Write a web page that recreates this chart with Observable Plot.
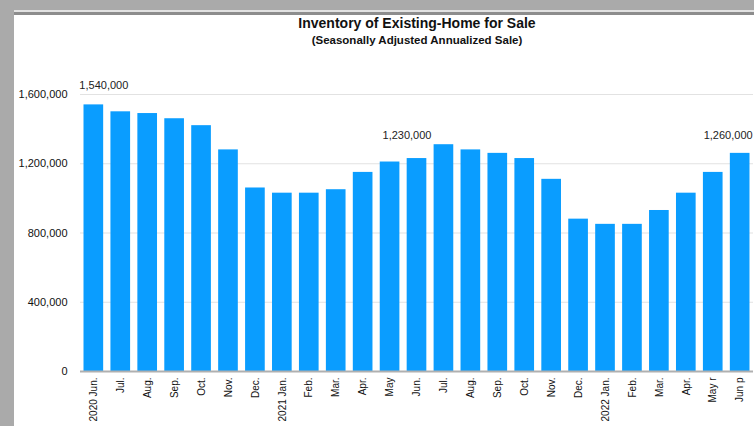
<!DOCTYPE html>
<html>
<head>
<meta charset="utf-8">
<script src="https://cdn.jsdelivr.net/npm/d3@7"></script>
<script src="https://cdn.jsdelivr.net/npm/@observablehq/plot@0.6"></script>
<style>
  html, body { margin: 0; padding: 0; background: #fff; overflow: hidden; }
  #wrap { position: relative; width: 754px; height: 426px; font-family: "Liberation Sans", Arial, sans-serif; }
  #chart { position: absolute; left: 0; top: 0; }
  .title { position: absolute; left: 80px; width: 674px; text-align: center; font-weight: bold; color: #111; line-height: 1; white-space: nowrap; }
  #t1 { top: 15.5px; font-size: 14px; }
  #t2 { top: 34.5px; font-size: 11.5px; }
  .frame { position: absolute; }
</style>
</head>
<body>
<div id="wrap">
  <div id="chart"></div>
  <div class="title" id="t1">Inventory of Existing-Home for Sale</div>
  <div class="title" id="t2">(Seasonally Adjusted Annualized Sale)</div>
  <div class="frame" style="left:0;top:0;width:754px;height:10px;background:#aaaaaa;"></div>
  <div class="frame" style="left:14px;top:10px;width:740px;height:2px;background:#e2e2e2;"></div>
  <div class="frame" style="left:14px;top:12px;width:740px;height:3px;background:#8d8d8d;"></div>
  <div class="frame" style="left:0;top:0;width:14px;height:426px;background:#aaaaaa;"></div>
</div>
<script>
const categories = ["2020-06","2020-07","2020-08","2020-09","2020-10","2020-11","2020-12",
  "2021-01","2021-02","2021-03","2021-04","2021-05","2021-06","2021-07","2021-08","2021-09","2021-10","2021-11","2021-12",
  "2022-01","2022-02","2022-03","2022-04","2022-05","2022-06"];
const tickLabels = ["2020 Jun.","Jul.","Aug.","Sep.","Oct.","Nov.","Dec.",
  "2021 Jan.","Feb.","Mar.","Apr.","May","Jun.","Jul.","Aug.","Sep.","Oct.","Nov.","Dec.",
  "2022 Jan.","Feb.","Mar.","Apr.","May r","Jun p"];
const inventory = [1540000,1500000,1490000,1460000,1420000,1280000,1060000,
  1030000,1030000,1050000,1150000,1210000,1230000,1310000,1280000,1260000,1230000,1110000,880000,
  850000,850000,930000,1030000,1150000,1260000];
const yTicks = [0, 400000, 800000, 1200000, 1600000];
const annotCategories = ["2020-06","2021-06","2022-06"];
const annotValues = [1540000, 1230000, 1260000];
const annotLabels = ["1,540,000","1,230,000","1,260,000"];

const data = categories.map((c, i) => ({cat: c, value: inventory[i]}));
const annots = annotCategories.map((c, i) => ({cat: c, value: annotValues[i], label: annotLabels[i]}));
const annotDx = [10, -10, -12];
const annotDy = [-19, -23, -18];
const font = "Liberation Sans, Arial, sans-serif";

const chart = Plot.plot({
  width: 754,
  height: 426,
  marginLeft: 80,
  marginRight: 1,
  marginTop: 94,
  marginBottom: 55,
  style: {fontFamily: font, background: "transparent", overflow: "visible"},
  x: {domain: categories, paddingInner: 0.27, paddingOuter: 0.13, round: false, label: null},
  y: {domain: [0, 1600000], label: null},
  marks: [
    Plot.gridY(yTicks, {stroke: "#e2e2e2", strokeOpacity: 1, strokeWidth: 1.2}),
    Plot.axisY(yTicks, {tickSize: 0, tickPadding: 13, tickFormat: d3.format(","), fontSize: 11, fill: "#111", label: null}),
    Plot.barY(data, {x: "cat", y: "value", fill: "#0a9dff"}),
    Plot.ruleY([0], {stroke: "#b0b0b0", strokeWidth: 2}),
    Plot.axisX({tickSize: 0, tickPadding: 6, tickRotate: -90, fontSize: 10, fill: "#111", label: null,
      tickFormat: d => tickLabels[categories.indexOf(d)]}),
    ...annots.map((a, i) => Plot.text([a], {x: "cat", y: "value", text: "label", dx: annotDx[i], dy: annotDy[i],
      fontSize: 11, fill: "#222", lineAnchor: "middle"}))
  ]
});
document.getElementById("chart").appendChild(chart);
</script>
</body>
</html>
